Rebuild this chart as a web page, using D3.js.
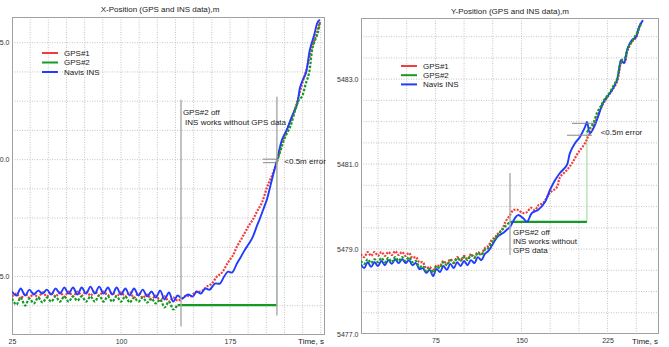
<!DOCTYPE html>
<html><head><meta charset="utf-8">
<script src="https://cdn.jsdelivr.net/npm/d3@7"></script>
<style>
html,body{margin:0;padding:0;background:#fff;}
svg{display:block;font-family:"Liberation Sans",Arial,sans-serif;}
</style></head>
<body>
<svg id="c" width="669" height="347"></svg>
<script>
// ---------- LEFT: X-Position ----------
const xTitle = "X-Position (GPS and INS data),m";
const xTimeTicks = [25, 100, 175];
const xPosTicks = [2075, 2080, 2085];

const xGps1T = [25,28,31,34,37,40,43,46,49,52,55,58,61,64,67,70,73,76,79,82,85,88,91,94,97,100,103,106,109,112,115,118,121,124,127,130,133,136,139,142,145,148,151,154.4,157,159,162.6,166,169.5,173.6,177,179.8,182.6,185.3,188,190.8,193.6,197,200.4,203.9,207.3,211.4,216.2,221.1,224.5,228,231.4,234.8,236.9];
const xGps1V = [2074.15,2074.27,2074.06,2074.27,2074.10,2074.27,2074.10,2074.32,2074.15,2074.32,2074.15,2074.32,2074.15,2074.36,2074.15,2074.36,2074.19,2074.36,2074.19,2074.36,2074.19,2074.36,2074.19,2074.32,2074.15,2074.32,2074.15,2074.32,2074.10,2074.27,2074.10,2074.23,2074.02,2074.19,2073.97,2074.15,2073.93,2074.10,2073.97,2074.06,2074.19,2074.15,2074.32,2074.36,2074.44,2074.57,2074.70,2075.00,2075.17,2075.60,2075.90,2076.28,2076.58,2076.88,2077.18,2077.44,2077.78,2078.16,2078.80,2079.32,2079.91,2080.85,2081.58,2082.44,2083.21,2083.93,2084.79,2085.43,2085.90];

const xGps2T = [25,28,31,34,37,40,43,46,49,52,55,58,61,64,67,70,73,76,79,82,85,88,91,94,97,100,103,106,109,112,115,118,121,124,127,130,133,136,139];
const xGps2V = [2074.06,2073.80,2074.10,2073.76,2074.06,2073.85,2074.10,2073.89,2074.10,2073.93,2074.15,2073.93,2074.15,2073.93,2074.15,2073.97,2074.15,2073.93,2074.15,2073.93,2074.19,2073.93,2074.15,2073.93,2074.15,2073.93,2074.15,2073.89,2074.10,2073.93,2074.10,2073.89,2074.06,2073.85,2074.02,2073.68,2073.93,2073.59,2073.80];
const xGps2HoldT = [139, 207.3];
const xGps2HoldV = [2073.78, 2073.78];
const xGps2ResT = [207.3,210,213,216.5,220,222.5,224.5,227,229.5,232,235.5,236.9];
const xGps2ResV = [2079.91,2080.43,2080.98,2081.41,2082.14,2082.56,2082.69,2083.21,2083.72,2084.83,2085.43,2085.90];

const xInsT = [25,28,31,34,37,40,43,46,49,52,55,58,61,64,67,70,73,76,79,82,85,88,91,94,97,100,103,106,109,112,115,118,121,124,127,130,133,136,139,142,146,149.5,152,155,158,161,164.7,168,171,173.6,176.4,179.8,182.6,185.3,188.1,190.8,193.6,195.6,198.4,200.4,202.5,204.6,207.3,210.8,214.2,217.6,221.1,223.2,225.2,227.3,230,232.8,235.5,236.9];
const xInsV = [2074.36,2074.19,2074.49,2074.19,2074.44,2074.23,2074.40,2074.27,2074.44,2074.23,2074.49,2074.27,2074.53,2074.27,2074.53,2074.23,2074.53,2074.27,2074.57,2074.27,2074.57,2074.27,2074.53,2074.23,2074.53,2074.23,2074.49,2074.19,2074.49,2074.19,2074.44,2074.15,2074.36,2074.10,2074.40,2074.02,2074.32,2073.93,2074.19,2074.06,2074.23,2074.15,2074.36,2074.27,2074.49,2074.44,2074.70,2074.70,2075.00,2075.21,2075.17,2075.56,2075.85,2076.15,2076.41,2076.71,2077.18,2077.48,2077.95,2078.29,2078.80,2079.32,2079.96,2080.85,2081.28,2081.84,2082.35,2083.08,2083.42,2083.72,2084.70,2085.30,2085.90,2085.98];

// ---------- RIGHT: Y-Position ----------
const yTitle = "Y-Position (GPS and INS data),m";
const yTimeTicks = [75, 150, 225];
const yPosTicks = [5477, 5479, 5481, 5483];

const yGps1T = [10,13,16,19,22,25,28,31,34,37,40,43,46,49,52,55,58,61,64,67,70,73,76,79,82,85,88,91,94,97,100,103,106,109,112,115,118,121,124,127,130,133,136,140,143,146.9,151,154.8,158,161.7,165,168.7,174.8,180.9,183.5,189.6,194,199.2,205.3,207.9,211.4,214,218.4,222,225,229,233.2,235,237,240,242,246,250,252.3,254];
const yGps1V = [5478.88,5478.81,5478.93,5478.84,5478.93,5478.84,5478.93,5478.84,5478.93,5478.86,5478.95,5478.86,5478.93,5478.84,5478.91,5478.79,5478.81,5478.69,5478.69,5478.55,5478.58,5478.48,5478.62,5478.60,5478.72,5478.65,5478.76,5478.69,5478.81,5478.74,5478.84,5478.76,5478.88,5478.81,5478.93,5478.88,5479.02,5479.07,5479.21,5479.28,5479.38,5479.45,5479.64,5479.80,5479.92,5479.92,5479.85,5479.87,5479.97,5479.92,5480.04,5480.08,5480.32,5480.46,5480.69,5480.86,5481.02,5481.26,5481.49,5481.64,5481.80,5481.96,5482.27,5482.46,5482.58,5482.74,5482.93,5483.16,5483.38,5483.40,5483.64,5483.87,5483.99,5484.20,5484.32];

const yGps2T = [10,13,16,19,22,25,28,31,34,37,40,43,46,49,52,55,58,61,64,67,70,73,76,79,82,85,88,91,94,97,100,103,106,109,112,115,118,121,124,127,130,133,136,140];
const yGps2V = [5478.72,5478.65,5478.76,5478.67,5478.76,5478.69,5478.79,5478.69,5478.79,5478.69,5478.81,5478.72,5478.81,5478.72,5478.81,5478.69,5478.72,5478.58,5478.60,5478.48,5478.53,5478.44,5478.60,5478.55,5478.69,5478.62,5478.74,5478.67,5478.79,5478.72,5478.81,5478.74,5478.86,5478.79,5478.91,5478.86,5478.98,5479.02,5479.14,5479.24,5479.35,5479.45,5479.54,5479.64];
const yGps2HoldT = [140, 207];
const yGps2HoldV = [5479.64, 5479.64];
const yGps2ResT = [207,209.7,212.5,216,219,222,226,230,233.5,235.5,237.5,240,243,247,251,254];
const yGps2ResV = [5481.75,5481.85,5481.96,5482.22,5482.36,5482.51,5482.65,5482.84,5483.02,5483.31,5483.45,5483.49,5483.75,5483.92,5484.11,5484.29];

const yInsT = [10,13,16,19,22,25,28,31,34,37,40,43,46,49,52,55,58,61,64,67,70,73,76,79,82,85,88,91,94,97,100,103,106,109,112,115,118,121,124,127,130,134,137,140,144.3,147,151.3,154.8,159.1,164.4,170.5,174.8,179.2,183.5,189.6,192.2,196.6,200.9,205.3,207,209.7,214,216.6,221,224.5,228.8,233.2,234.9,236.7,239.3,241.9,246.2,249.7,252.3,255.8];
const yInsV = [5478.65,5478.55,5478.69,5478.58,5478.69,5478.60,5478.72,5478.62,5478.74,5478.65,5478.76,5478.67,5478.76,5478.67,5478.74,5478.62,5478.67,5478.53,5478.55,5478.44,5478.51,5478.36,5478.53,5478.46,5478.60,5478.51,5478.65,5478.55,5478.69,5478.60,5478.72,5478.62,5478.74,5478.67,5478.81,5478.74,5478.88,5478.95,5479.07,5479.21,5479.31,5479.38,5479.45,5479.52,5479.73,5479.80,5479.73,5479.64,5479.85,5479.92,5480.11,5480.39,5480.62,5480.79,5480.98,5481.26,5481.49,5481.64,5481.87,5481.99,5481.73,5481.92,5482.11,5482.44,5482.58,5482.74,5482.98,5483.21,5483.45,5483.38,5483.68,5483.92,5483.99,5484.22,5484.39];

const seriesNames = ["GPS#1", "GPS#2", "Navis INS"];
const colors = {red:"#f23c3c", green:"#159a25", blue:"#1f3cff", gray:"#a8a8a8"};

const zip = (t, v) => t.map((d, i) => ({t: d, v: v[i]}));

const panels = [
  {
    id: "L", title: xTitle, titleX: 160, titleY: 12,
    tDomain: [25, 240.4], xRange: [12, 325],
    vDomain: [2072.5, 2086.1], yRange: [335, 17],
    tGrid: 12.5, vGrid: 1.25, tTicks: xTimeTicks, vTicks: xPosTicks,
    gps1: zip(xGps1T, xGps1V), gps2: zip(xGps2T, xGps2V),
    hold: zip(xGps2HoldT, xGps2HoldV), res: zip(xGps2ResT, xGps2ResV),
    ins: zip(xInsT, xInsV),
    legend: {x: 42, y: 53, step: 9.5},
    offLine: {t: 141.3, v0: 2082.56, v1: 2072.86},
    endLine: {t: 207.3, v0: 2082.69, v1: 2073.33},
    offText: {t: 142.6, v: 2082.01, lines: ["GPS#2 off", " INS works without GPS data"], step: 0.39},
    errLines: [{t0: 197.7, t1: 208, v: 2080.02}, {t0: 197.7, t1: 208, v: 2079.87}],
    errText: {t: 212.4, v: 2079.93}
  },
  {
    id: "R", title: yTitle, titleX: 510, titleY: 14,
    tDomain: [10.2, 269.8], xRange: [361, 659],
    vDomain: [5477, 5484.44], yRange: [334, 18],
    tGrid: 25, vGrid: 0.5, tTicks: yTimeTicks, vTicks: yPosTicks,
    gps1: zip(yGps1T, yGps1V), gps2: zip(yGps2T, yGps2V),
    hold: zip(yGps2HoldT, yGps2HoldV), res: zip(yGps2ResT, yGps2ResV),
    ins: zip(yInsT, yInsV),
    legend: {x: 401, y: 66, step: 9.2},
    offLine: {t: 140, v0: 5480.79, v1: 5478.86},
    endLine: null,
    offText: {t: 142.6, v: 5479.40, lines: ["GPS#2 off", "INS works without", "GPS data"], step: 0.215},
    errLines: [{t0: 193.9, t1: 215.7, v: 5481.96}, {t0: 189.6, t1: 211.4, v: 5481.68}],
    errText: {t: 219, v: 5481.75}
  }
];

const svg = d3.select("#c");

panels.forEach(p => {
  const x = d3.scaleLinear().domain(p.tDomain).range(p.xRange);
  const y = d3.scaleLinear().domain(p.vDomain).range(p.yRange);
  const g = svg.append("g");

  const cid = "clip" + p.id;
  svg.append("clipPath").attr("id", cid).append("rect")
    .attr("x", p.xRange[0]).attr("y", p.yRange[1])
    .attr("width", p.xRange[1] - p.xRange[0]).attr("height", p.yRange[0] - p.yRange[1]);

  // grid
  const tg = d3.range(Math.ceil(p.tDomain[0] / p.tGrid) * p.tGrid, p.tDomain[1], p.tGrid)
    .filter(t => Math.abs(x(t) - p.xRange[0]) > 2 && Math.abs(x(t) - p.xRange[1]) > 2);
  const vg = d3.range(Math.ceil(p.vDomain[0] / p.vGrid) * p.vGrid, p.vDomain[1], p.vGrid)
    .filter(v => Math.abs(y(v) - p.yRange[0]) > 2 && Math.abs(y(v) - p.yRange[1]) > 2);
  g.append("g").selectAll("line").data(tg).join("line")
    .attr("x1", d => x(d)).attr("x2", d => x(d))
    .attr("y1", p.yRange[1]).attr("y2", p.yRange[0])
    .attr("stroke", "#c4c4c4").attr("stroke-width", 1).attr("stroke-dasharray", "1,1.5");
  g.append("g").selectAll("line").data(vg).join("line")
    .attr("x1", p.xRange[0]).attr("x2", p.xRange[1])
    .attr("y1", d => y(d)).attr("y2", d => y(d))
    .attr("stroke", "#c4c4c4").attr("stroke-width", 1).attr("stroke-dasharray", "1,1.5");

  g.append("rect").attr("x", p.xRange[0] + 0.5).attr("y", p.yRange[1] + 0.5)
    .attr("width", p.xRange[1] - p.xRange[0] - 1).attr("height", p.yRange[0] - p.yRange[1] - 1)
    .attr("fill", "none").attr("stroke", "#a0a0a0").attr("stroke-width", 1);

  // axes
  const ax = g.append("g").attr("transform", `translate(0,${p.yRange[0]})`)
    .call(d3.axisBottom(x).tickValues(p.tTicks).tickSize(0).tickPadding(4).tickFormat(d3.format("d")));
  ax.select(".domain").remove();
  ax.selectAll("text").attr("font-size", 7).attr("fill", "#333").attr("font-family", "Liberation Sans, Arial, sans-serif");
  const ay = g.append("g").attr("transform", `translate(${p.xRange[0]},0)`)
    .call(d3.axisLeft(y).tickValues(p.vTicks).tickSize(0).tickPadding(2.5).tickFormat(d3.format(".1f")));
  ay.select(".domain").remove();
  ay.selectAll("text").attr("font-size", 7).attr("fill", "#333").attr("font-family", "Liberation Sans, Arial, sans-serif");

  g.append("text").attr("x", p.xRange[1] - 1).attr("y", 344)
    .attr("text-anchor", "end").attr("font-size", 8).attr("fill", "#222").text("Time, s");

  g.append("text").attr("x", p.titleX).attr("y", p.titleY).attr("text-anchor", "middle")
    .attr("font-size", 8).attr("fill", "#222").text(p.title);

  const line = d3.line().x(d => x(d.t)).y(d => y(d.v)).curve(d3.curveCatmullRom.alpha(0.5));
  const lineS = d3.line().x(d => x(d.t)).y(d => y(d.v));
  const data = g.append("g").attr("clip-path", `url(#${cid})`);

  // GPS#2 hold + jump
  data.append("path").attr("d", lineS([p.hold[1], p.res[0]])).attr("fill", "none")
    .attr("stroke", "#a8dca8").attr("stroke-width", 1.2);
  data.append("path").attr("d", lineS(p.hold)).attr("fill", "none")
    .attr("stroke", colors.green).attr("stroke-width", 2.2);

  data.append("path").attr("d", line(p.gps1)).attr("fill", "none")
    .attr("stroke", colors.red).attr("stroke-width", 2.2).attr("stroke-dasharray", "2,1.3");
  data.append("path").attr("d", line(p.ins)).attr("fill", "none")
    .attr("stroke", colors.blue).attr("stroke-width", 1.9);
  data.append("path").attr("d", line(p.gps2)).attr("fill", "none")
    .attr("stroke", colors.green).attr("stroke-width", 2.2).attr("stroke-dasharray", "2.5,1.5");
  data.append("path").attr("d", line(p.res)).attr("fill", "none")
    .attr("stroke", colors.green).attr("stroke-width", 2.2).attr("stroke-dasharray", "2.5,1.5");

  // vertical gray annotation lines (on top)
  [p.offLine, p.endLine].filter(Boolean).forEach(l => {
    g.append("line").attr("x1", x(l.t)).attr("x2", x(l.t)).attr("y1", y(l.v0)).attr("y2", y(l.v1))
      .attr("stroke", colors.gray).attr("stroke-width", 1.4);
  });

  p.errLines.forEach(l => {
    g.append("line").attr("x1", x(l.t0)).attr("x2", x(l.t1)).attr("y1", y(l.v)).attr("y2", y(l.v))
      .attr("stroke", "#888").attr("stroke-width", 1);
  });
  g.append("text").attr("x", x(p.errText.t)).attr("y", y(p.errText.v)).attr("dy", "0.35em")
    .attr("font-size", 8).attr("fill", "#222").text("<0.5m error");

  p.offText.lines.forEach((s, i) => {
    g.append("text").attr("x", x(p.offText.t)).attr("y", y(p.offText.v - i * p.offText.step)).attr("dy", "0.35em")
      .attr("font-size", 8).attr("fill", "#222").attr("xml:space", "preserve").text(s);
  });

  const lc = [colors.red, colors.green, colors.blue];
  seriesNames.forEach((n, i) => {
    const ly = p.legend.y + i * p.legend.step;
    g.append("line").attr("x1", p.legend.x).attr("x2", p.legend.x + 16).attr("y1", ly).attr("y2", ly)
      .attr("stroke", lc[i]).attr("stroke-width", 2);
    g.append("text").attr("x", p.legend.x + 22).attr("y", ly).attr("dy", "0.35em")
      .attr("font-size", 8).attr("fill", "#222").text(n);
  });
});
</script>
</body></html>
